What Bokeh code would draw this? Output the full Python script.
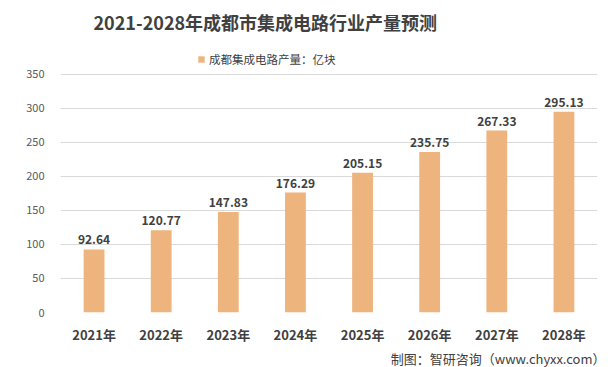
from bokeh.plotting import figure
from bokeh.models import FactorRange, Range1d, FixedTicker, Legend, LegendItem, Label, Title, ColumnDataSource
from bokeh.core.properties import value
from bokeh.embed import file_html
from bokeh.resources import INLINE

years = ["2021年", "2022年", "2023年", "2024年", "2025年", "2026年", "2027年", "2028年"]
output = [92.64, 120.77, 147.83, 176.29, 205.15, 235.75, 267.33, 295.13]
value_labels = ["92.64", "120.77", "147.83", "176.29", "205.15", "235.75", "267.33", "295.13"]
y_ticks = [0, 50, 100, 150, 200, 250, 300, 350]
series_name = "成都集成电路产量：亿块"
title_text = "2021-2028年成都市集成电路行业产量预测"
source_text = "制图：智研咨询（www.chyxx.com）"

FONT = "Noto Sans CJK SC"
BAR = "#EEB47D"
TXT = "#404040"

src = ColumnDataSource(dict(x=years, y=output, t=value_labels))

# frame spans the full top of the picture so title/legend can live inside it;
# 350 sits at the top gridline, the rest is headroom for the title area
p = figure(width=608, height=367, x_range=FactorRange(*years), y_range=Range1d(0, 458.4),
           output_backend="svg", toolbar_location=None,
           min_border_left=60, min_border_right=11, min_border_top=0, min_border_bottom=54)

bars = p.vbar(x="x", top="y", width=0.31, source=src, fill_color=BAR, line_color=None)
p.text(x="x", y="y", text="t", source=src, y_offset=-5, text_align="center", text_baseline="bottom",
       text_font=value(FONT), text_font_size="12px", text_font_style="bold", text_color=TXT)

p.outline_line_color = None
p.xgrid.grid_line_color = None
p.ygrid.grid_line_color = "#D9D9D9"
p.ygrid.ticker = FixedTicker(ticks=y_ticks)

p.yaxis.ticker = FixedTicker(ticks=y_ticks)
p.yaxis.axis_line_color = None
p.yaxis.major_tick_line_color = None
p.yaxis.minor_tick_line_color = None
p.yaxis.major_label_text_font = FONT
p.yaxis.major_label_text_font_size = "11px"
p.yaxis.major_label_text_color = "#595959"
p.yaxis.major_label_standoff = 10

p.xaxis.axis_line_color = None
p.xaxis.major_tick_line_color = None
p.xaxis.major_tick_out = 0
p.xaxis.major_label_text_font = FONT
p.xaxis.major_label_text_font_size = "13px"
p.xaxis.major_label_text_font_style = "bold"
p.xaxis.major_label_text_color = TXT
p.xaxis.major_label_standoff = 12

legend = Legend(items=[LegendItem(label=series_name, renderers=[bars])], location=(137, 245),
                orientation="horizontal", label_text_font=FONT, label_text_font_size="11.5px",
                label_text_color="#404040", glyph_width=8, glyph_height=8, border_line_color=None,
                background_fill_alpha=0, padding=0, margin=0, label_standoff=4, label_height=14)
p.add_layout(legend, "center")

p.add_layout(Label(x=33, y=291, x_units="screen", y_units="screen", text=title_text,
                   text_baseline="middle", text_align="left", text_font=FONT, text_font_size="18px",
                   text_font_style="bold", text_color=TXT))

p.add_layout(Title(text=source_text, align="right", standoff=0, offset=-8, text_font=FONT,
                   text_font_size="13px", text_font_style="normal", text_color=TXT), "below")

open("out.html", "w").write(file_html(p, INLINE))
